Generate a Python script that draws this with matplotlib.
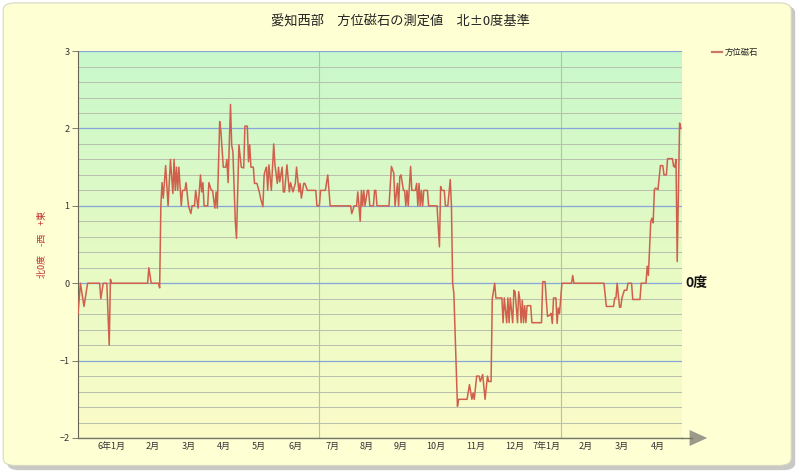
import numpy as np
import matplotlib
matplotlib.use('Agg')
import matplotlib.pyplot as plt
from matplotlib.patches import FancyBboxPatch, Polygon
from matplotlib.lines import Line2D
from matplotlib.ticker import MultipleLocator
from matplotlib.colors import LinearSegmentedColormap

plt.rcParams['font.family'] = ['Noto Sans CJK JP', 'DejaVu Sans']

# day index (from start of chart) and measured value (degrees)
days = [0, 2, 5, 8, 18, 19, 21, 24, 26, 27, 28, 58, 59, 61, 67, 68,
        69, 70, 71, 73, 75, 77, 79, 80, 81, 82, 83, 84, 86, 87, 89, 90,
        92, 94, 95, 97, 98, 100, 102, 103, 104, 105, 108, 109, 111, 112,
        114, 115, 116, 118, 119, 121, 123, 124, 125, 127, 128, 129, 131,
        132, 134, 136, 138, 139, 141, 142, 143, 144, 146, 147, 149, 151,
        152, 154, 155, 156, 157, 158, 159, 161, 163, 164, 166, 167, 168,
        170, 171, 172, 174, 176, 177, 179, 181, 182, 184, 185, 186, 188,
        189, 191, 198, 199, 201, 202, 206, 208, 210, 227, 228, 230, 232,
        233, 234, 235, 236, 237, 238, 239, 241, 242, 243, 246, 247, 248,
        249, 259, 261, 263, 264, 266, 267, 268, 269, 271, 272, 273, 274,
        275, 277, 278, 281, 282, 283, 284, 285, 286, 287, 288, 291, 292,
        299, 301, 302, 303, 305, 306, 308, 310, 311, 312, 313, 316, 317,
        324, 326, 328, 329, 330, 332, 334, 335, 337, 339, 341, 342, 344,
        345, 347, 348, 353, 354, 355, 357, 358, 359, 360, 362, 363, 364,
        366, 367, 368, 369, 370, 371, 372, 373, 374, 377, 378, 386, 387,
        389, 390, 391, 393, 394, 395, 396, 398, 399, 400, 401, 403, 411,
        412, 413, 438, 440, 446, 447, 448, 449, 451, 452, 453, 455, 457,
        458, 461, 462, 468, 469, 473, 474, 475, 477, 478, 479, 480, 481,
        483, 485, 487, 488, 490, 491, 495, 496, 497, 498, 499, 501, 502]
values = [-0.4, 0, -0.3, 0, 0, -0.2, 0, 0, -0.8, 0.05, 0, 0, 0.2, 0, 0, -0.06,
          1.0, 1.3, 1.1, 1.52, 1.0, 1.6, 1.16, 1.6, 1.2, 1.5, 1.2, 1.5, 1.0, 1.2, 1.2, 1.3,
          1.0, 0.9, 1.0, 1.0, 1.2, 0.97, 1.4, 1.18, 1.3, 1.0, 1.0, 1.3, 1.2, 1.2,
          0.97, 1.18, 0.97, 2.09, 1.96, 1.5, 1.5, 1.6, 1.3, 2.31, 1.78, 1.7, 0.8,
          0.58, 1.79, 1.5, 1.49, 2.03, 2.03, 1.57, 1.79, 1.5, 1.5, 1.29, 1.29, 1.18,
          1.1, 0.99, 1.4, 1.46, 1.5, 1.2, 1.53, 1.2, 1.8, 1.53, 1.29, 1.5, 1.31,
          1.5, 1.18, 1.18, 1.53, 1.18, 1.3, 1.18, 1.29, 1.5, 1.18, 1.29, 1.1, 1.29,
          1.29, 1.2, 1.2, 1.0, 1.0, 1.2, 1.2, 1.4, 1.0, 1.0, 0.9, 1.0, 1.0,
          1.18, 1.0, 0.8, 1.2, 1.0, 1.2, 1.0, 1.2, 1.2, 1.0, 1.0, 1.2, 1.2,
          1.0, 1.0, 1.51, 1.42, 1.0, 1.29, 1.0, 1.38, 1.4, 1.2, 1.2, 1.0, 1.2,
          1.0, 1.51, 1.2, 1.2, 1.29, 1.0, 1.29, 1.0, 1.2, 1.0, 1.2, 1.2, 1.0,
          1.0, 0.47, 1.25, 1.2, 1.2, 1.0, 1.0, 1.34, 1.0, 0.0, -0.13, -1.59, -1.5,
          -1.5, -1.31, -1.5, -1.42, -1.5, -1.2, -1.2, -1.27, -1.18, -1.5, -1.2, -1.27, -1.27,
          -0.2, 0.0, -0.19, -0.19, -0.51, -0.19, -0.51, -0.19, -0.51, -0.19, -0.51, -0.09, -0.11,
          -0.51, -0.11, -0.22, -0.51, -0.22, -0.51, -0.29, -0.51, -0.29, -0.29, -0.51, -0.51, 0.02,
          0.02, -0.22, -0.43, -0.41, -0.39, -0.52, -0.19, -0.19, -0.52, -0.32, -0.39, 0.0, 0.0,
          0.1, 0.0, 0.0, -0.3, -0.3, -0.19, -0.19, 0.0, -0.31, -0.31, -0.19, -0.09, -0.09,
          0.0, 0.0, -0.21, -0.21, 0.0, 0.0, 0.22, 0.1, 0.8, 0.84, 0.78, 1.21, 1.23,
          1.21, 1.52, 1.52, 1.4, 1.4, 1.61, 1.61, 1.51, 1.5, 1.6, 0.28, 2.07, 2.0]

month_days = [28, 62.5, 92.5, 121.7, 150.8, 180.8, 211.7, 240, 269, 298,
              331, 364, 390, 423, 453, 482.5]
month_labels = ['6年1月', '2月', '3月', '4月', '5月', '6月', '7月', '8月', '9月',
                '10月', '11月', '12月', '7年1月', '2月', '3月', '4月']
grid_days = [201, 402]
total_days = 503

line_color = '#d0604c'

fig = plt.figure(figsize=(8, 4.73), dpi=100)
fig.patch.set_facecolor('white')

# rounded panel with shadow
shadow = FancyBboxPatch((0.009, 0.006), 0.985, 0.982, boxstyle='round,pad=0,rounding_size=0.015',
                        transform=fig.transFigure, facecolor='#c8c8c4', edgecolor='none', zorder=-3)
panel = FancyBboxPatch((0.004, 0.016), 0.985, 0.978, boxstyle='round,pad=0,rounding_size=0.015',
                       transform=fig.transFigure, facecolor='#ffffd4', edgecolor='#d8d8c4',
                       linewidth=0.8, zorder=-2)
fig.patches.extend([shadow, panel])

ax = fig.add_axes([0.0975, 0.074, 0.755, 0.818])
ax.patch.set_alpha(0)

# green -> yellow gradient background
grad = np.linspace(0, 1, 256)[:, None]
cmap = LinearSegmentedColormap.from_list('bg', ['#fbfcc8', '#e4fac4', '#c8f8cc'])
ax.imshow(grad, cmap=cmap, origin='lower', extent=[0, 1, 0, 1], transform=ax.transAxes,
          aspect='auto', zorder=0)

ax.plot(days, values, color=line_color, linewidth=1.1, zorder=3)

ax.set_xlim(0, total_days)
ax.set_ylim(-2, 3)

ax.yaxis.set_major_locator(MultipleLocator(1))
ax.yaxis.set_minor_locator(MultipleLocator(0.2))
ax.grid(axis='y', which='major', color='#86a6da', linewidth=0.9, zorder=1)
ax.grid(axis='y', which='minor', color='#b8bfae', linewidth=0.7, zorder=1)
for d in grid_days:
    ax.axvline(d, color='#b0c4a8', linewidth=0.8, zorder=1)

ax.set_xticks(month_days)
ax.set_xticklabels(month_labels, fontsize=6.5, color='#333333')
ax.tick_params(axis='x', length=0, pad=3)
ax.tick_params(axis='y', which='major', length=4, width=0.6, color='#666666',
               labelsize=6.5, labelcolor='#333333', pad=2)
ax.tick_params(axis='y', which='minor', length=0)

for s in ['top', 'right']:
    ax.spines[s].set_visible(False)
ax.spines['left'].set_color('#666655')
ax.spines['bottom'].set_color('#777766')
ax.spines['left'].set_linewidth(0.8)
ax.spines['bottom'].set_linewidth(1.0)

# axis extension and arrow head
fig.lines.append(Line2D([0.8525, 0.865], [0.074, 0.074], transform=fig.transFigure,
                        color='#777766', linewidth=1.0))
fig.patches.append(Polygon([[0.862, 1 - 430 / 473], [0.862, 1 - 446 / 473], [0.884, 1 - 438 / 473]],
                           closed=True, transform=fig.transFigure, facecolor='#9a9a88',
                           edgecolor='none'))

ax.set_ylabel('北0度　-西　+東', fontsize=6.5, color='#c03030')
ax.yaxis.set_label_coords(-0.052, 0.5)

fig.text(0.5, 0.953, '愛知西部　方位磁石の測定値　北±0度基準', ha='center', va='center',
         fontsize=9.5, color='#222222')

# legend
fig.lines.append(Line2D([712 / 800, 722 / 800], [1 - 52 / 473] * 2, transform=fig.transFigure,
                        color='#c87868', linewidth=1.6))
fig.text(725 / 800, 1 - 52 / 473, '方位磁石', ha='left', va='center', fontsize=6, color='#222222')

# 0 degree marker
ax.text(1.005, 0, '0度', transform=ax.get_yaxis_transform(), ha='left', va='center',
        fontsize=10, fontweight='bold', color='#111111')

fig.savefig('out.png', dpi=100)
